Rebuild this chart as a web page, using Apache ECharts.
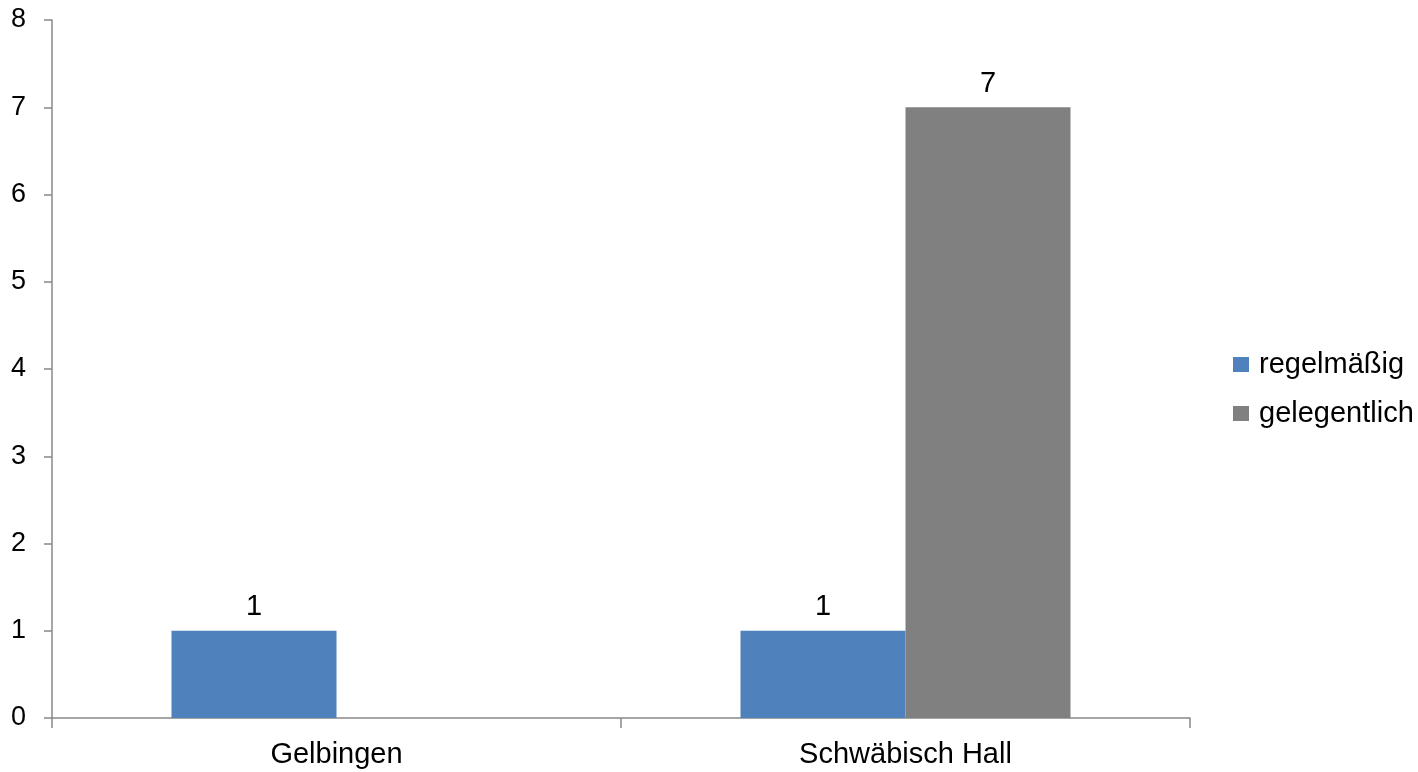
<!DOCTYPE html>
<html>
<head>
<meta charset="utf-8">
<script src="https://cdn.jsdelivr.net/npm/echarts@6/dist/echarts.min.js"></script>
<style>
  html, body { margin: 0; padding: 0; background: #fff; }
  #chart { width: 1418px; height: 772px; }
</style>
</head>
<body>
<div id="chart"></div>
<script>
// Categories and series values
const categories = ['Gelbingen', 'Schwäbisch Hall'];
const regelmaessig = [1, 1];
const gelegentlich = [null, 7];
const seriesNames = ['regelmäßig', 'gelegentlich'];
const yTicks = [0, 1, 2, 3, 4, 5, 6, 7, 8];

const FONT = '"Liberation Sans", Arial, sans-serif';
const AXIS_GREY = '#888888';

const chart = echarts.init(document.getElementById('chart'), null, { renderer: 'canvas' });

const valueLabel = {
  show: true,
  position: 'top',
  distance: 9,
  color: '#000',
  fontFamily: FONT,
  fontSize: 29
};

chart.setOption({
  animation: false,
  backgroundColor: '#ffffff',
  grid: { left: 52, right: 228, top: 20, bottom: 54, containLabel: false },
  legend: {
    orient: 'vertical',
    left: 1233,
    top: 350,
    padding: 0,
    itemWidth: 16,
    itemHeight: 15,
    itemGap: 20,
    icon: 'rect',
    textStyle: { fontFamily: FONT, fontSize: 29, color: '#000', padding: [0, 0, 0, 5] },
    data: seriesNames
  },
  xAxis: {
    type: 'category',
    data: categories,
    axisLine: { lineStyle: { color: AXIS_GREY, width: 1.5 } },
    axisTick: { show: true, length: 10, lineStyle: { color: AXIS_GREY, width: 1.5 } },
    axisLabel: { color: '#000', fontFamily: FONT, fontSize: 29, margin: 22 }
  },
  yAxis: {
    type: 'value',
    min: yTicks[0],
    max: yTicks[yTicks.length - 1],
    interval: 1,
    splitLine: { show: false },
    axisLine: { show: true, lineStyle: { color: AXIS_GREY, width: 1.5 } },
    axisTick: { show: true, length: 8, lineStyle: { color: AXIS_GREY, width: 1.5 } },
    axisLabel: { color: '#000', fontFamily: FONT, fontSize: 27, margin: 26 }
  },
  series: [
    {
      name: seriesNames[0],
      type: 'bar',
      data: regelmaessig,
      barGap: '0%',
      barCategoryGap: '42%',
      itemStyle: { color: '#4F81BD' },
      label: valueLabel
    },
    {
      name: seriesNames[1],
      type: 'bar',
      data: gelegentlich,
      barGap: '0%',
      barCategoryGap: '42%',
      itemStyle: { color: '#808080' },
      label: valueLabel
    }
  ]
});
</script>
</body>
</html>
